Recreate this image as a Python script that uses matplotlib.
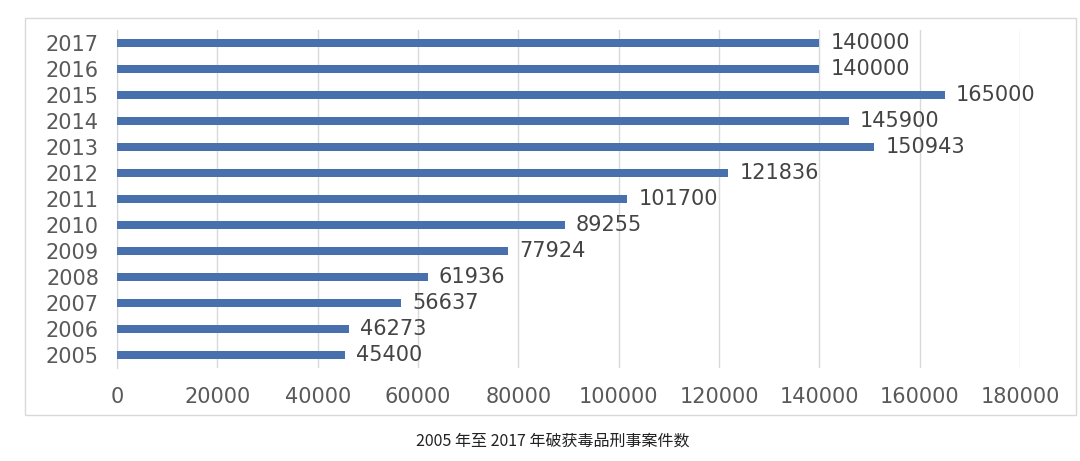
import matplotlib
matplotlib.use("Agg")
import matplotlib.pyplot as plt
from matplotlib.patches import Rectangle

years = ["2005", "2006", "2007", "2008", "2009", "2010", "2011",
         "2012", "2013", "2014", "2015", "2016", "2017"]
cases = [45400, 46273, 56637, 61936, 77924, 89255, 101700,
         121836, 150943, 145900, 165000, 140000, 140000]
xticks = [0, 20000, 40000, 60000, 80000, 100000, 120000, 140000, 160000, 180000]
caption = "2005 年至 2017 年破获毒品刑事案件数"

bar_color = "#4770ad"
text_color = "#595959"
grid_color = "#d9d9d9"

plt.rcParams['font.family'] = ['DejaVu Sans', 'Noto Sans CJK SC']

fig = plt.figure(figsize=(10.8, 4.61), dpi=100)
ax = fig.add_axes([117 / 1080, 93 / 461, (1020 - 117) / 1080, (431 - 93) / 461])

pos = list(range(len(years)))
ax.barh(pos, cases, height=0.33, color=bar_color, zorder=3)
for p, v in zip(pos, cases):
    ax.annotate(str(v), (v, p), xytext=(8, 0), textcoords="offset points",
                va="center", ha="left", fontsize=15, color="#444444")

ax.set_xlim(0, 180000)
ax.set_ylim(-0.5, len(years) - 0.5)
ax.set_yticks(pos)
ax.set_yticklabels(years)
ax.set_xticks(xticks)
ax.set_xticklabels([str(t) for t in xticks])
ax.tick_params(axis="both", length=0, labelsize=15, labelcolor=text_color)
ax.tick_params(axis="y", pad=13)
ax.tick_params(axis="x", pad=14)
ax.grid(axis="x", color=grid_color, linewidth=1, zorder=0)
for s in ["top", "right", "bottom"]:
    ax.spines[s].set_visible(False)
ax.spines["left"].set_color(grid_color)

# outer chart frame
fig.patches.append(Rectangle((25 / 1080, (461 - 415) / 461), (1076 - 25) / 1080, (415 - 18) / 461,
                             transform=fig.transFigure, fill=False,
                             edgecolor=grid_color, linewidth=1))

fig.text(553 / 1080, (461 - 441) / 461, caption, ha="center", va="center",
         fontsize=11.5, color="#222222", family=['Noto Sans CJK SC', 'DejaVu Sans'])

fig.savefig("out.png", dpi=100, facecolor="white")
